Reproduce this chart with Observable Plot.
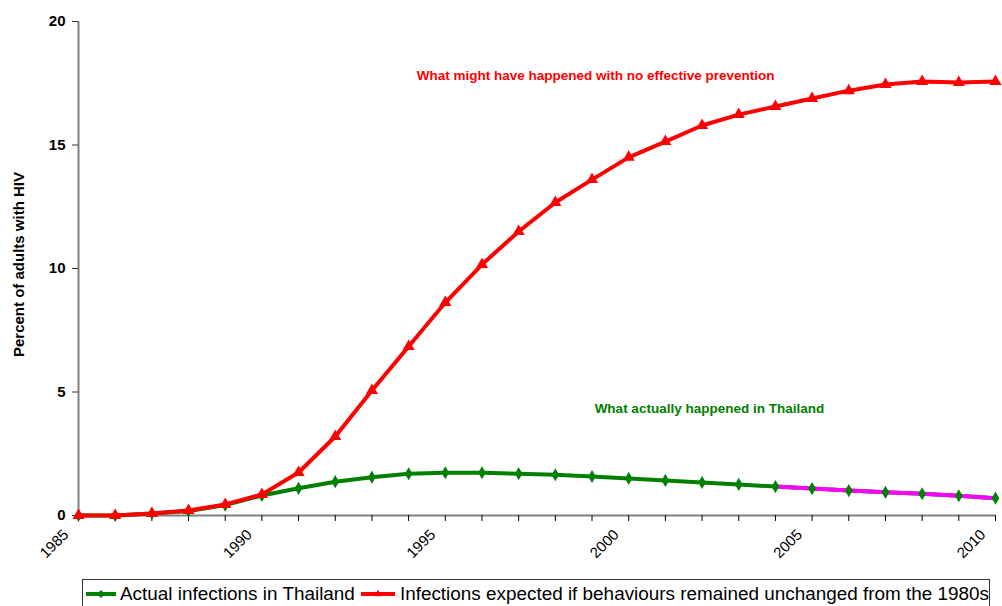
<!DOCTYPE html>
<html>
<head>
<meta charset="utf-8">
<script src="https://cdn.jsdelivr.net/npm/d3@7"></script>
<script src="https://cdn.jsdelivr.net/npm/@observablehq/plot@0.6"></script>
<style>
  body { margin: 0; background: #fff; font-family: "Liberation Sans", Arial, sans-serif; overflow: hidden; }
  #chart { position: relative; width: 1002px; height: 606px; }
  #legend { position: absolute; left: 82px; top: 579px; width: 908px; height: 34px; border: 1px solid #333; box-sizing: border-box;
            display: flex; align-items: flex-start; padding-top: 3px; font-size: 18.9px; color: #000; white-space: nowrap; }
  .item { display: flex; align-items: center; }
  .item svg { display: block; }
</style>
</head>
<body>
<div id="chart"></div>
<script>
const years = [1985,1986,1987,1988,1989,1990,1991,1992,1993,1994,1995,1996,1997,1998,1999,2000,2001,2002,2003,2004,2005,2006,2007,2008,2009,2010];
const actual = [0,0,0.08,0.18,0.42,0.81,1.1,1.37,1.55,1.69,1.73,1.73,1.69,1.65,1.58,1.5,1.42,1.34,1.26,1.17,1.09,1.01,0.94,0.88,0.8,0.7];
const expected = [0,0,0.08,0.2,0.45,0.85,1.74,3.2,5.06,6.84,8.62,10.16,11.5,12.67,13.6,14.5,15.14,15.79,16.23,16.56,16.88,17.2,17.45,17.57,17.53,17.57];
const projectedFrom = 2004;
const seriesNames = ["Actual infections in Thailand", "Infections expected if behaviours remained unchanged from the 1980s"];
const yTicks = [0, 5, 10, 15, 20];
const xLabelYears = [1985, 1990, 1995, 2000, 2005, 2010];
const yTitle = "Percent of adults with HIV";
const annotations = [
  {year: 1999.1, value: 17.8, text: "What might have happened with no effective prevention", color: "#ff0000"},
  {year: 2002.2, value: 4.33, text: "What actually happened in Thailand", color: "#008000"}
];

const green = years.map((y, i) => ({year: y, v: actual[i]}));
const red = years.map((y, i) => ({year: y, v: expected[i]}));
const pink = green.filter(d => d.year >= projectedFrom);

const plot = Plot.plot({
  width: 1002,
  height: 578,
  marginLeft: 78,
  marginRight: 7,
  marginTop: 21,
  marginBottom: 63,
  style: {fontFamily: "'Liberation Sans', Arial, sans-serif", background: "white"},
  x: {domain: [1985, 2010]},
  y: {domain: [0, 20]},
  marks: [
    Plot.ruleX([1985], {stroke: "#808080", strokeWidth: 2}),
    Plot.ruleY([0], {stroke: "#808080", strokeWidth: 2}),
    Plot.axisY({ticks: yTicks, tickSize: 6, tickFormat: () => "", stroke: "#333", label: null}),
    Plot.text(yTicks, {y: d => d, frameAnchor: "left", dx: -13, textAnchor: "end", text: d => String(d),
      fontSize: 15, fontWeight: "bold", fill: "#000"}),
    Plot.text([yTitle], {frameAnchor: "left", dx: -59, dy: -4, rotate: -90, textAnchor: "middle", text: d => d,
      fontSize: 15, fontWeight: "bold", fill: "#000"}),
    Plot.axisX({ticks: years, tickSize: 6, tickFormat: () => "", stroke: "#000", label: null}),
    Plot.text(xLabelYears, {x: d => d, frameAnchor: "bottom", text: d => String(d), rotate: -45, textAnchor: "end",
      dx: -9, dy: 20, fontSize: 15, fill: "#000"}),
    Plot.line(green, {x: "year", y: "v", stroke: "#008000", strokeWidth: 4}),
    Plot.line(pink, {x: "year", y: "v", stroke: "#ff00ff", strokeWidth: 4}),
    Plot.dot(green, {x: "year", y: "v", symbol: "diamond", r: 4, fill: "#008000"}),
    Plot.line(red, {x: "year", y: "v", stroke: "#ff0000", strokeWidth: 4}),
    Plot.dot(red, {x: "year", y: "v", symbol: "triangle", r: 4.5, fill: "#ff0000"}),
    Plot.text(annotations, {x: "year", y: "value", text: "text", fill: "color", fontSize: 13.5, fontWeight: "bold"})
  ]
});
const chart = document.getElementById("chart");
chart.appendChild(plot);

const legend = document.createElement("div");
legend.id = "legend";
const swatches = [
  {color: "#008000", shape: "diamond", w: 30, ml: 3, gap: 4},
  {color: "#ff0000", shape: "triangle", w: 34, ml: 6, gap: 5}
];
seriesNames.forEach((name, i) => {
  const s = swatches[i];
  const item = document.createElement("div");
  item.className = "item";
  const sw = d3.create("svg").attr("width", s.w).attr("height", 20)
    .style("margin-left", s.ml + "px").style("margin-right", s.gap + "px");
  sw.append("line").attr("x1", 0).attr("x2", s.w).attr("y1", 10).attr("y2", 10).attr("stroke", s.color).attr("stroke-width", 4);
  sw.append("path").attr("transform", `translate(${s.w / 2},10)`).attr("d", d3.symbol(s.shape === "diamond" ? d3.symbolDiamond2 : d3.symbolTriangle2, 40)()).attr("fill", s.color);
  item.appendChild(sw.node());
  const t = document.createElement("span");
  t.textContent = name;
  item.appendChild(t);
  legend.appendChild(item);
});
chart.appendChild(legend);
</script>
</body>
</html>
